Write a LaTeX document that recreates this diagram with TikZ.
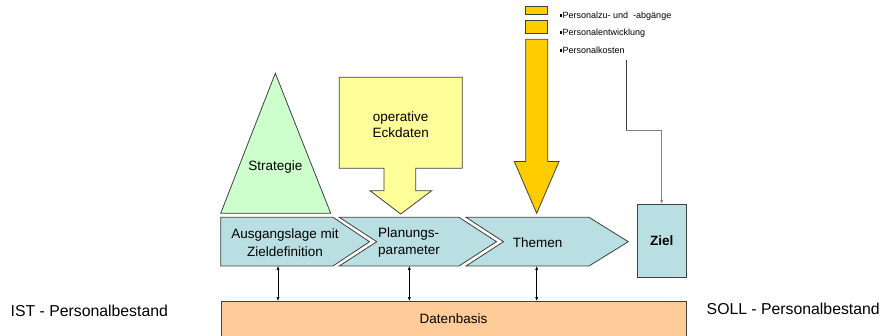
\documentclass[tikz,border=0pt]{standalone}
\usepackage{fontspec}
\setmainfont{Liberation Sans}
\usetikzlibrary{arrows.meta}
\definecolor{stratgreen}{HTML}{CCFFCC}
\definecolor{eckyellow}{HTML}{FFFF99}
\definecolor{themeorange}{HTML}{FFCC00}
\definecolor{phaseblue}{HTML}{B9DFE2}
\definecolor{basepeach}{HTML}{FFCC99}
\definecolor{edgegray}{HTML}{404040}
\newcommand{\mainsize}{\fontsize{13.5}{17.5}\selectfont}
\newcommand{\sidesize}{\fontsize{15.8}{19}\selectfont}
\newcommand{\smallsize}{\fontsize{9}{11}\selectfont}
\newcommand{\blt}{\rule[1.3pt]{2.6pt}{2.6pt}\hspace{0.4pt}}
\tikzset{
  shapeline/.style={draw=edgegray, line width=0.8pt, line join=miter},
  phase/.style={shapeline, fill=phaseblue},
  lbl/.style={inner sep=0pt, font=\mainsize, align=center},
  notelbl/.style={inner sep=0pt, anchor=west, font=\smallsize},
  link/.style={draw=black, line width=0.6pt, {Latex[length=4pt,width=3.2pt]}-{Latex[length=4pt,width=3.2pt]}},
  feedline/.style={draw=gray, line width=0.8pt},
  feed/.style={feedline, -{Latex[length=4pt,width=3.2pt]}}
}
\begin{document}
\begin{tikzpicture}[x=1pt,y=-1pt]
\clip (0,0) rectangle (882,336);
\fill[white] (0,0) rectangle (882,336);

% strategy triangle
\draw[shapeline, fill=stratgreen] (220.7,213.3) -- (275.3,73.3) -- (330.7,213.3) -- cycle;
\node[lbl] (strat) at (275.3,166.7) {Strategie};

% block arrow: operative key data
\draw[shapeline, fill=eckyellow]
  (339.3,77.3) -- (462.3,77.3) -- (462.3,168.3) -- (415.7,168.3) -- (415.7,190.7)
  -- (431.7,190.7) -- (400.7,214) -- (370,190.7) -- (384,190.7) -- (384,168.3)
  -- (339.3,168.3) -- cycle;
\node[lbl, font=\fontsize{13.5}{16}\selectfont] (eck) at (400.7,124.7) {operative\\Eckdaten};

% topic arrow with stacked segments
\draw[shapeline, fill=themeorange] (525.7,6.7) rectangle (547.7,14);
\draw[shapeline, fill=themeorange] (525.7,20) rectangle (547.7,33.3);
\draw[shapeline, fill=themeorange]
  (525.7,39.3) -- (547.7,39.3) -- (547.7,161.5) -- (559,161.5) -- (536.7,213.3)
  -- (514.3,161.5) -- (525.7,161.5) -- cycle;

% topic list
\node[notelbl] (t1) at (559.5,15.7) {\blt Personalzu- und \ -abgänge};
\node[notelbl] (t2) at (559.5,32.7) {\blt Personalentwicklung};
\node[notelbl] (t3) at (559.5,50) {\blt Personalkosten};

% process chevrons
\draw[phase] (220.7,217.3) -- (333,217.3) -- (369.5,241.7) -- (333,266) -- (220.7,266) -- cycle;
\draw[phase] (339.3,217.3) -- (459,217.3) -- (496.5,241.7) -- (459,266) -- (339.3,266) -- (376.7,241.7) -- cycle;
\draw[phase] (466,217.3) -- (589,217.3) -- (628.3,241.7) -- (589,266) -- (466,266) -- (503.5,241.7) -- cycle;
\node[lbl] (p1) at (285,242.5) {Ausgangslage mit\\Zieldefinition};
\node[lbl, align=left] (p2) at (409,242.5) {Planungs-\\parameter};
\node[lbl] (p3) at (537.7,242.3) {Themen};

% goal box
\node[phase, minimum width=48.7pt, minimum height=73pt, inner sep=0pt,
      font=\mainsize\bfseries] (ziel) at (661.7,240.8) {Ziel};

% data basis
\node[shapeline, fill=basepeach, minimum width=465.3pt, minimum height=40pt,
      inner sep=0pt, anchor=north west] (db) at (220.7,301) {};
\node[lbl] (dbl) at (453.5,319) {Datenbasis};

% side labels
\node[inner sep=0pt, anchor=west, font=\sidesize] (ist) at (10.5,310.5) {IST - Personalbestand};
\node[inner sep=0pt, anchor=west, font=\sidesize] (soll) at (706.5,308.5) {SOLL - Personalbestand};

% links between phases and data basis
\coordinate (a1) at (278,266);
\coordinate (a2) at (409.3,266);
\coordinate (a3) at (536.7,266);
\draw[link] (a1) -- (a1 |- db.north);
\draw[link] (a2) -- (a2 |- db.north);
\draw[link] (a3) -- (a3 |- db.north);

% cost line feeding the goal
\coordinate (k0) at (626,60.5);
\coordinate (k1) at (626,130);
\draw[feedline, draw=darkgray] (k0) -- (k1);
\draw[feed] (k1) -| (ziel.north);
\end{tikzpicture}
\end{document}
